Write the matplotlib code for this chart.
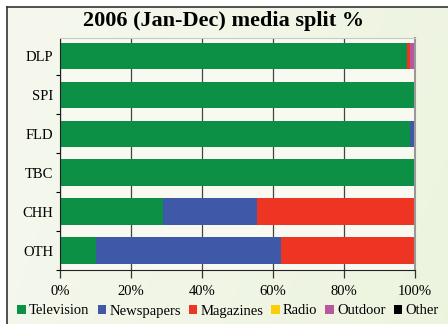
import numpy as np
import matplotlib
matplotlib.use("Agg")
import matplotlib.pyplot as plt
from matplotlib.patches import Patch

# data (percent share per media)
categories = ["DLP", "SPI", "FLD", "TBC", "CHH", "OTH"]
media = ["Television", "Newspapers", "Magazines", "Radio", "Outdoor", "Other"]
television = [97.8, 100.0, 98.6, 100.0, 29.1, 10.0]
newspapers = [0.0, 0.0, 1.4, 0.0, 26.4, 52.3]
magazines = [0.7, 0.0, 0.0, 0.0, 44.5, 37.7]
radio = [0.0, 0.0, 0.0, 0.0, 0.0, 0.0]
outdoor = [1.5, 0.0, 0.0, 0.0, 0.0, 0.0]
other = [0.0, 0.0, 0.0, 0.0, 0.0, 0.0]
series = [television, newspapers, magazines, radio, outdoor, other]
colors = ["#0b9045", "#3f58a7", "#ee3524", "#fdcc0a", "#b9569e", "#000000"]

plt.rcParams["font.family"] = ["Liberation Serif", "DejaVu Serif"]

fig = plt.figure(figsize=(4.48, 3.24), dpi=100, facecolor="white")

# background panel with soft gradient and dark left/top border
bg = fig.add_axes([7 / 448, 0, 1 - 7 / 448, 1 - 7 / 324], zorder=-1)
yy, xx = np.mgrid[0:1:200j, 0:1:300j]
g = np.clip(xx * 0.8 + yy * 0.2, 0, 1)
c0 = np.array([0.965, 0.972, 0.935])
c1 = np.array([0.925, 0.955, 0.870])
img = c0[None, None, :] * (1 - g[..., None]) + c1[None, None, :] * g[..., None]
bg.imshow(img, aspect="auto", extent=(0, 1, 0, 1), origin="upper")
bg.set_xticks([]); bg.set_yticks([])
for s in ["right", "bottom"]:
    bg.spines[s].set_visible(False)
for s in ["left", "top"]:
    bg.spines[s].set_color("#333333")
    bg.spines[s].set_linewidth(1.2)

ax = fig.add_axes([60 / 448, 1 - 270 / 324, 355 / 448, 232 / 324])
ax.set_facecolor("#f8f9f1")

y = np.arange(len(categories))
left = np.zeros(len(categories))
for name, vals, col in zip(media, series, colors):
    ax.barh(y, vals, left=left, height=0.68, color=col, label=name, zorder=2)
    left += np.array(vals)

ax.set_xlim(0, 100)
ax.set_ylim(5.36, -0.46)
ax.set_xticks([0, 20, 40, 60, 80, 100])
ax.set_xticklabels(["0%", "20%", "40%", "60%", "80%", "100%"], fontsize=10.5)
ax.set_yticks(y)
ax.set_yticklabels(categories, fontsize=10.5)
ax.set_yticks(np.arange(len(categories)) + 0.5, minor=True)
ax.tick_params(axis="y", which="major", length=0, pad=5)
ax.tick_params(axis="y", which="minor", length=3, width=0.8, direction="out")
ax.tick_params(axis="x", length=6, width=0.9, pad=5, color="#333333")
ax.grid(axis="x", color="#444444", linewidth=0.9, zorder=1)

ax.spines["left"].set_color("#222222")
ax.spines["bottom"].set_color("#222222")
ax.spines["top"].set_color("#c8c8c8")
ax.spines["right"].set_color("#999999")
ax.spines["right"].set_linewidth(1.5)

fig.text(0.5, 1 - 21 / 324, "2006 (Jan-Dec) media split %", ha="center", va="center",
         fontsize=16, fontweight="bold")

handles = [Patch(facecolor=c, label=m) for m, c in zip(media, colors)]
fig.legend(handles=handles, loc="center", bbox_to_anchor=(228 / 448, 1 - 311 / 324), ncol=6,
           frameon=False, fontsize=10.5, handlelength=0.6, handleheight=0.6,
           handletextpad=0.2, columnspacing=0.55, borderaxespad=0, borderpad=0)

fig.savefig("out.png", dpi=100)
